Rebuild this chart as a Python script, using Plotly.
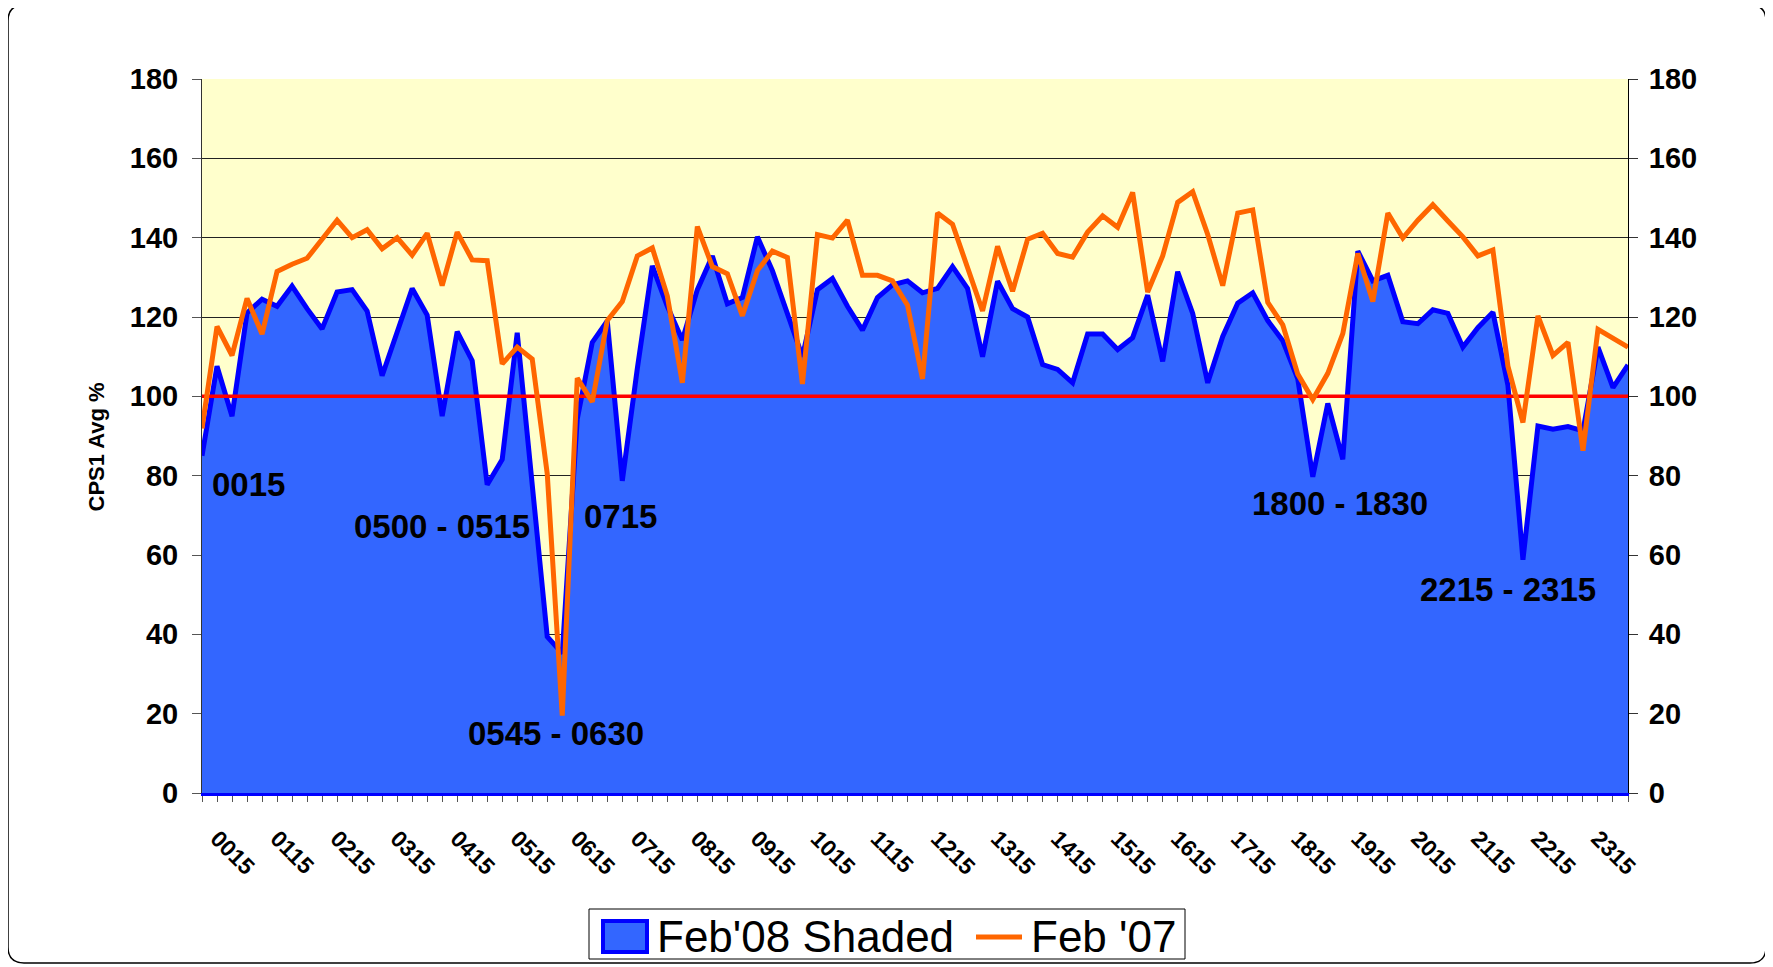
import plotly.graph_objects as go

# ------------------------------------------------------------------------
# Data: 15 minute intervals over a day (0000 .. 2345)
times = ["%02d%02d" % (h, m) for h in range(24) for m in (0, 15, 30, 45)]

feb08 = [85, 107.6, 95, 121, 124.5, 122.7, 127.8, 122.1, 117, 126.3, 126.9, 121.5,
         105.2, 116, 127.2, 120.5, 95, 116.3, 109, 77.7, 84.1, 116, 79, 39.4,
         35.2, 94.3, 113.6, 119, 78.7, 107, 132.9, 122.7, 114.2, 126.9, 135.4, 123.3,
         124.9, 140.2, 131.7, 120.9, 110, 126.9, 129.7, 122.7, 116.7, 124.9, 128.1, 129.1,
         126.1, 127.2, 132.7, 127.2, 110, 129, 122.1, 120, 108, 106.8, 103.4, 115.7,
         115.7, 111.8, 114.8, 125.5, 108.8, 131.4, 120.9, 103.4, 115.1, 123.5, 126.1, 119.1,
         114, 104.4, 79.7, 98.2, 84.1, 136.6, 129.1, 130.5, 118.8, 118.3, 121.8, 120.9,
         112.4, 117.3, 121.2, 102.8, 58.8, 92.5, 91.7, 92.4, 91.3, 112.4, 102.2, 107.9]

feb07 = [91.9, 117.6, 110.3, 124.7, 115.7, 131.5, 133.3, 134.8, 139.6, 144.4, 140, 142,
         137.2, 140, 135.6, 141.1, 127.9, 141.4, 134.4, 134.2, 108.2, 112.4, 109.4, 80.5,
         19.5, 104.6, 98.6, 119.1, 123.9, 135.4, 137.4, 125.3, 103.4, 142.8, 132.7, 130.9,
         120.3, 131.7, 136.6, 135, 103.1, 140.8, 139.9, 144.4, 130.5, 130.5, 129.1, 123,
         104.4, 146.2, 143.4, 132.5, 121.5, 137.8, 126.5, 139.6, 141.1, 136, 135.1, 141.4,
         145.5, 142.6, 151.4, 126.3, 135.4, 148.9, 151.6, 140.8, 127.9, 146.2, 147, 123.7,
         118, 105.6, 99.2, 105.8, 115.8, 136, 123.9, 146.2, 139.9, 144.4, 148.3, 144.2,
         140.2, 135.4, 136.9, 107.6, 93.4, 120.3, 110.3, 113.6, 86.3, 116.9, 114.8, 112.4]

target = 100

# shown tick labels: every hour at :15
tick_labels = [t if i % 4 == 1 else "" for i, t in enumerate(times)]

# call-outs for the dips
notes = ["0015", "0500 - 0515", "0715", "0545 - 0630", "1800 - 1830", "2215 - 2315"]
note_x = [0.5, 10.0, 25.3, 17.6, 69.8, 81.0]
note_y = [77.9, 67.3, 69.8, 14.9, 72.9, 51.4]

# ------------------------------------------------------------------------
# page body has an 8px margin, so the figure is laid out 8px smaller
OFF = 8
W, H = 1773 - OFF, 967 - OFF
ML, MT = 202 - OFF, 79 - OFF
PW, PH = 1426, 714
MR, MB = W - ML - PW, H - MT - PH

FONT = "Arial, Liberation Sans"
BOLD = dict(family=FONT, color="black", weight="bold")


# paper coords from page pixel positions
def px(x):
    return (x - OFF - ML) / PW


def py(y):
    return (MT + PH - (y - OFF)) / PH


fig = go.Figure()

fig.add_trace(go.Scatter(x=times, y=feb08, name="Feb'08 Shaded", mode="lines",
                         fill="tozeroy", fillcolor="#3366FF",
                         line=dict(color="#0000FF", width=5)))

fig.add_trace(go.Scatter(x=[times[0], times[-1]], y=[target, target], mode="lines",
                         line=dict(color="#FF0000", width=3.5), showlegend=False,
                         hoverinfo="skip"))

fig.add_trace(go.Scatter(x=times, y=feb07, name="Feb '07", mode="lines", yaxis="y2",
                         line=dict(color="#FF6600", width=5)))

for txt, nx, ny in zip(notes, note_x, note_y):
    fig.add_annotation(x=nx, y=ny, text="<b>%s</b>" % txt, showarrow=False,
                       xanchor="left", yanchor="middle",
                       font=dict(family=FONT, size=33, color="black"))

# y axis title
fig.add_annotation(x=px(82), y=py(447), xref="paper", yref="paper",
                   text="<b>CPS1 Avg %</b>", textangle=-90, showarrow=False,
                   font=dict(family=FONT, size=22, color="black"))

# rounded outer frame
x0, x1, y0, y1, r = 8, 1766, 5, 963, 16
path = ("M %f,%f L %f,%f Q %f,%f %f,%f L %f,%f Q %f,%f %f,%f "
        "L %f,%f Q %f,%f %f,%f L %f,%f Q %f,%f %f,%f Z") % (
    px(x0 + r), py(y0), px(x1 - r), py(y0), px(x1), py(y0), px(x1), py(y0 + r),
    px(x1), py(y1 - r), px(x1), py(y1), px(x1 - r), py(y1),
    px(x0 + r), py(y1), px(x0), py(y1), px(x0), py(y1 - r),
    px(x0), py(y0 + r), px(x0), py(y0), px(x0 + r), py(y0))
fig.add_shape(type="path", path=path, xref="paper", yref="paper",
              line=dict(color="black", width=1.5), layer="below")

# legend box
fig.add_shape(type="rect", xref="paper", yref="paper",
              x0=px(589), x1=px(1185), y0=py(909), y1=py(959),
              line=dict(color="black", width=1), fillcolor="white", layer="above")
fig.add_shape(type="rect", xref="paper", yref="paper",
              x0=px(603), x1=px(647), y0=py(921), y1=py(952),
              line=dict(color="#0000FF", width=4), fillcolor="#3366FF", layer="above")
fig.add_shape(type="line", xref="paper", yref="paper",
              x0=px(976), x1=px(1022), y0=py(937), y1=py(937),
              line=dict(color="#FF6600", width=5), layer="above")
fig.add_annotation(x=px(655), y=py(936), xref="paper", yref="paper",
                   text="Feb'08 Shaded", showarrow=False, xanchor="left", yanchor="middle",
                   font=dict(family=FONT, size=44, color="black"))
fig.add_annotation(x=px(1029), y=py(936), xref="paper", yref="paper",
                   text="Feb '07", showarrow=False, xanchor="left", yanchor="middle",
                   font=dict(family=FONT, size=44, color="black"))

yticks = list(range(0, 181, 20))

fig.update_layout(
    width=W, height=H,
    margin=dict(l=ML, r=MR, t=MT, b=MB, autoexpand=False),
    paper_bgcolor="white",
    plot_bgcolor="#FFFFCC",
    showlegend=False,
    xaxis=dict(type="category", range=[0, len(times) - 1],
               tickmode="array", tickvals=times, ticktext=tick_labels,
               tickangle=45, ticks="outside", ticklen=6, tickcolor="#555555",
               ticklabelstandoff=14,
               tickfont=dict(size=23, **BOLD), automargin=False,
               showline=True, linecolor="#0000FF", linewidth=3,
               showgrid=False, zeroline=False),
    yaxis=dict(range=[0, 180], tickvals=yticks, ticks="outside", ticklen=9,
               tickcolor="#555555", tickfont=dict(size=29, **BOLD), automargin=False,
               ticklabelstandoff=8,
               showline=True, linecolor="#333333", linewidth=1,
               showgrid=True, gridcolor="#222222", gridwidth=1, zeroline=False),
    yaxis2=dict(range=[0, 180], tickvals=yticks, overlaying="y", side="right",
                ticks="outside", ticklen=9, tickcolor="#333333", automargin=False,
                ticklabelstandoff=5,
                tickfont=dict(size=29, **BOLD),
                showline=True, linecolor="#000000", linewidth=1,
                showgrid=False, zeroline=False),
)

fig.write_html("out.html")
